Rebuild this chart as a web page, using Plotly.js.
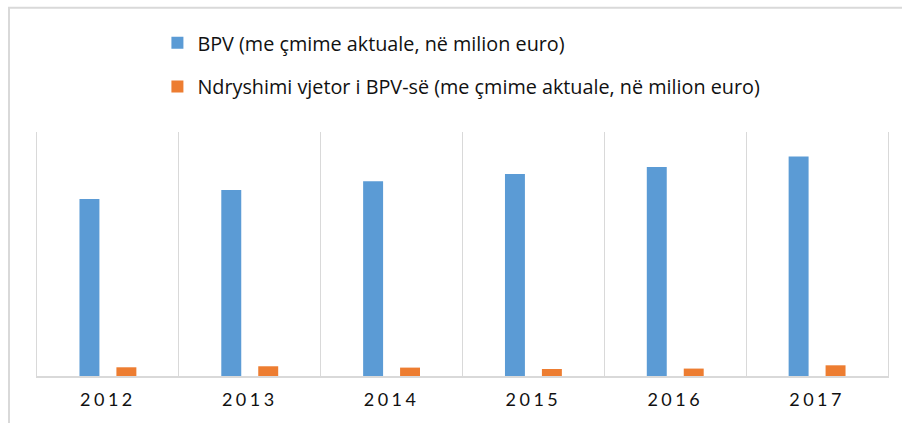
<!DOCTYPE html>
<html>
<head>
<meta charset="utf-8">
<script src="https://cdn.plot.ly/plotly-3.0.1.min.js"></script>
<style>
  html, body { margin: 0; padding: 0; background: #fff; }
  #chart { width: 902px; height: 423px; }
  .xtick text { letter-spacing: 3.5px; }
</style>
</head>
<body>
<div id="chart"></div>
<script>
// Data (no axis values shown in the original)
var years = ['2012', '2013', '2014', '2015', '2016', '2017'];
var bpv = [5075, 5335, 5585, 5795, 5995, 6300];
var ndryshimi = [250, 279, 241, 201, 213, 307];
var seriesNames = [
  'BPV (me çmime aktuale, në milion euro)',
  'Ndryshimi vjetor i BPV-së (me çmime aktuale, në milion euro)'
];

var traces = [
  {
    type: 'bar', x: years, y: bpv, name: seriesNames[0],
    marker: { color: '#5b9bd5', line: { width: 0 } },
    legendgroup: 'a', hoverinfo: 'x+y'
  },
  {
    type: 'bar', x: years, y: ndryshimi, name: seriesNames[1],
    marker: { color: '#ed7d31', line: { width: 0 } },
    legendgroup: 'b', hoverinfo: 'x+y'
  }
];

var layout = {
  width: 902, height: 423,
  margin: { l: 37, r: 14, t: 132, b: 47.3, pad: 0 },
  paper_bgcolor: '#ffffff', plot_bgcolor: '#ffffff',
  font: { family: 'Lato, "Open Sans", sans-serif', color: '#111111' },
  barmode: 'group', bargap: 0.479, bargroupgap: 0.46,
  showlegend: true,
  legend: {
    orientation: 'v', x: 0.1415, xanchor: 'left', y: 1.445, yanchor: 'top',
    traceorder: 'grouped', tracegroupgap: 15,
    font: { size: 19.8, color: '#111111', family: '"Open Sans", sans-serif' },
    bgcolor: 'rgba(0,0,0,0)', borderwidth: 0
  },
  xaxis: {
    type: 'category', range: [-0.5, 5.5],
    tickson: 'boundaries', ticks: '', showgrid: true,
    gridcolor: '#d9d9d9', gridwidth: 1.3,
    showline: true, linecolor: '#d9d9d9', linewidth: 2,
    tickfont: { size: 18, color: '#111111', family: 'Lato, sans-serif' },
    ticklabelstandoff: 6,
    fixedrange: true, zeroline: false
  },
  yaxis: {
    range: [0, 7000], showgrid: false, zeroline: false,
    showticklabels: false, ticks: '',
    showline: true, mirror: true, linecolor: '#d9d9d9', linewidth: 1.3,
    fixedrange: true
  },
  shapes: [
    {
      type: 'rect', xref: 'paper', yref: 'paper',
      x0: -0.0329, x1: 1.03, y0: -0.25, y1: 1.5088,
      line: { color: '#d9d9d9', width: 2 }, fillcolor: 'rgba(0,0,0,0)', layer: 'below'
    }
  ]
};

Plotly.newPlot('chart', traces, layout, { displayModeBar: false, staticPlot: true });
</script>
</body>
</html>
